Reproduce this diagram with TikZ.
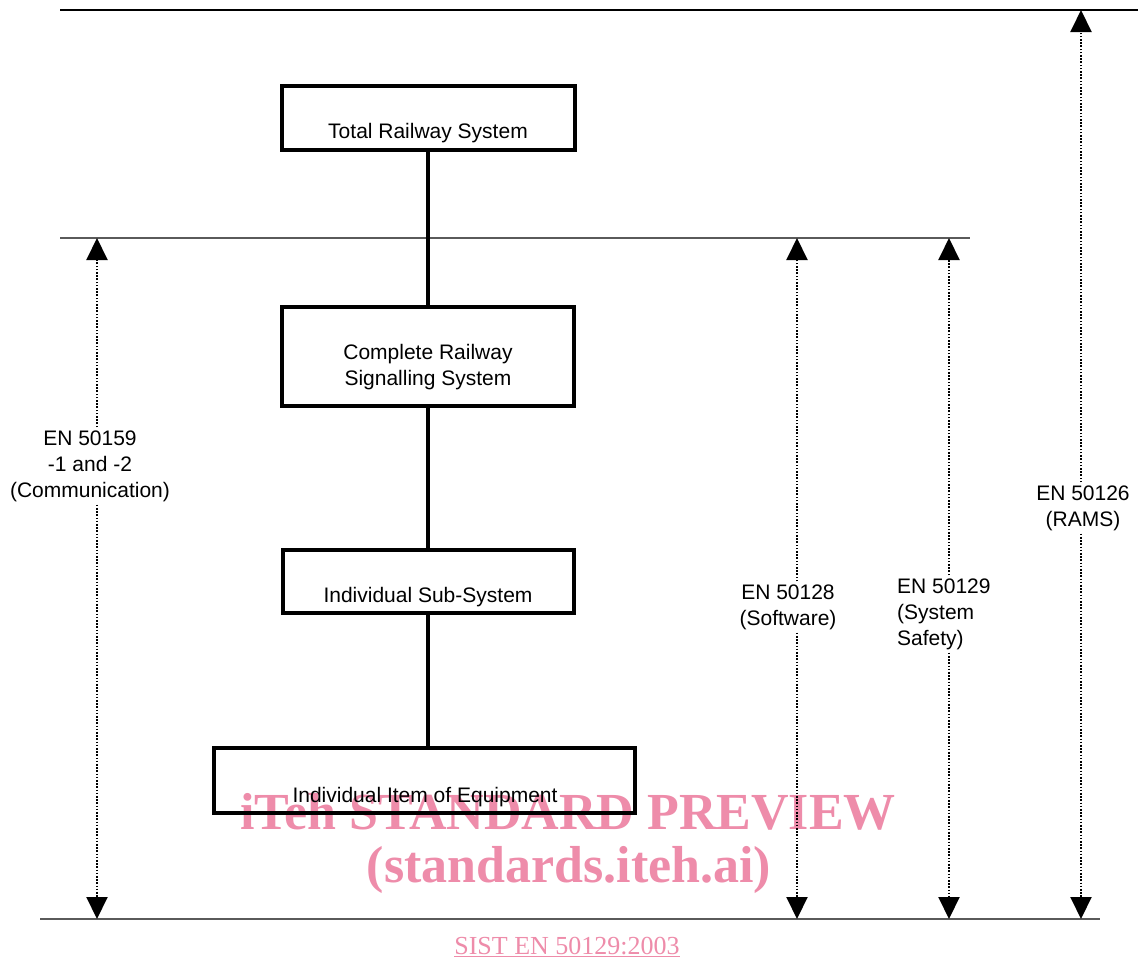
\documentclass[tikz,border=0pt]{standalone}
\usepackage{fontspec}
\setmainfont{Liberation Sans}
\newfontfamily\wmfont{Liberation Serif}
\usetikzlibrary{arrows.meta}
\definecolor{wmpink}{RGB}{238,140,170}
\definecolor{rulegrey}{RGB}{90,90,90}
\begin{document}
\begin{tikzpicture}[x=1pt,y=-1pt,
  box/.style={draw=black,line width=4pt,rectangle,inner sep=0pt},
  boxtxt/.style={font=\fontsize{21}{26}\selectfont,align=center,inner sep=0pt},
  conn/.style={line width=4pt,black},
  lbl/.style={font=\fontsize{21}{26}\selectfont,inner sep=3pt},
  arr/.style={line width=2pt,dash pattern=on 1.6pt off 1.6pt,-{Triangle[width=21pt,length=22pt,sep=0pt]}},
  hrule/.style={line width=1.4pt,rulegrey},
  wm/.style={font=\wmfont\bfseries\fontsize{52}{56}\selectfont,text=wmpink,inner sep=0pt,anchor=base}
]
\useasboundingbox[fill=white] (0,0) rectangle (1138,961);

% horizontal rules
\coordinate (r1a) at (60,10);  \coordinate (r1b) at (1138,10);
\coordinate (r2a) at (60,238); \coordinate (r2b) at (970,238);
\coordinate (r3a) at (40,919); \coordinate (r3b) at (1100,919);
\draw[line width=1.8pt,black] (r1a) -- (r1b);
\draw[hrule,line width=1.1pt] (r2a) -- (r2b);
\draw[hrule] (r3a) -- (r3b);

% watermark (behind)
\node[wm] (wm1) at (568,829) {iTeh STANDARD PREVIEW};
\node[wm] (wm2) at (569,882) {(standards.iteh.ai)};
\node[font=\wmfont\fontsize{26}{30}\selectfont,text=wmpink,anchor=base,inner sep=0pt] (wm3) at (567,954)
  {\underline{SIST EN 50129:2003}};

% boxes
\node[box,minimum width=293pt,minimum height=64pt] (b1) at (428.5,118) {};
\node[box,minimum width=292pt,minimum height=99pt] (b2) at (428,356.5) {};
\node[box,minimum width=291pt,minimum height=63pt] (b3) at (428.5,581.5) {};
\node[box,minimum width=421pt,minimum height=65pt] (b4) at (424.5,780.5) {};
\node[boxtxt,anchor=base] (t1) at (428,138) {Total Railway System};
\node[boxtxt,anchor=base] (t2) at (428,385) {Complete Railway\\Signalling System};
\node[boxtxt,anchor=base] (t3) at (428,602) {Individual Sub-System};
\node[boxtxt,anchor=base] (t4) at (425,802) {Individual Item of Equipment};

% connectors
\draw[conn] (b1.south -| 427.5,0) -- (b2.north -| 427.5,0);
\draw[conn] (b2.south -| 427.5,0) -- (b3.north -| 427.5,0);
\draw[conn] (b3.south -| 427.5,0) -- (b4.north -| 427.5,0);

% dimension arrows
\coordinate (a1t) at (97,238);   \coordinate (a1b) at (97,919);
\coordinate (a2t) at (797,238);  \coordinate (a2b) at (797,919);
\coordinate (a3t) at (949,238);  \coordinate (a3b) at (949,919);
\coordinate (a4t) at (1081,10);  \coordinate (a4b) at (1081,919);

\node[lbl,align=center] (l1) at (90,466) {EN 50159\\-1 and -2\\(Communication)};
\node[lbl,align=center] (l2) at (788,607) {EN 50128\\(Software)};
\node[lbl,align=left,anchor=west] (l3) at (894,614) {EN 50129\\(System\\Safety)};
\node[lbl,align=center] (l4) at (1083,508) {EN 50126\\(RAMS)};

\draw[arr] (l1.north -| a1t) -- (a1t);
\draw[arr] (l1.south -| a1t) -- (a1b);
\draw[arr] (l2.north -| a2t) -- (a2t);
\draw[arr] (l2.south -| a2t) -- (a2b);
\draw[arr] (l3.north -| a3t) -- (a3t);
\draw[arr] (l3.south -| a3t) -- (a3b);
\draw[arr] (l4.north -| a4t) -- (a4t);
\draw[arr] (l4.south -| a4t) -- (a4b);
\end{tikzpicture}
\end{document}
